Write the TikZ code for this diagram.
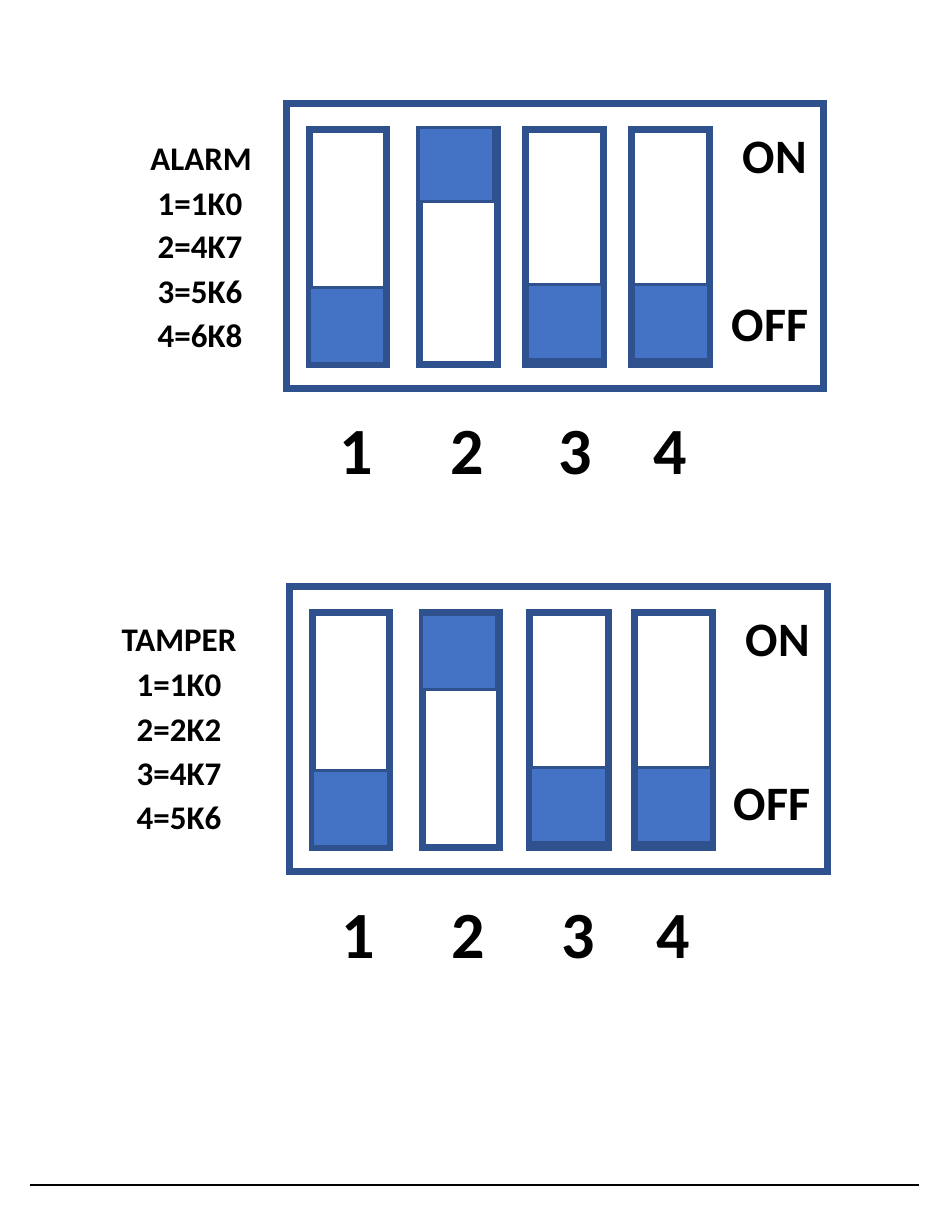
\documentclass[tikz,border=0pt]{standalone}
\usepackage{fontspec}
\setmainfont{Carlito}
\definecolor{dkblue}{HTML}{2F528F}
\definecolor{ltblue}{HTML}{4472C4}
\tikzset{
  panelbox/.style={draw=dkblue, line width=7pt, fill=white},
  switchbox/.style={draw=dkblue, line width=7pt, fill=white},
  knob/.style={draw=dkblue, line width=3pt, fill=ltblue},
  lbl/.style={anchor=base, inner sep=0pt, font=\bfseries\fontsize{33}{35}\selectfont},
  onoff/.style={anchor=base, inner sep=0pt, font=\bfseries\fontsize{48}{50}\selectfont},
  num/.style={anchor=base, inner sep=0pt, font=\bfseries\fontsize{66}{68}\selectfont},
}
\begin{document}
\begin{tikzpicture}[x=1pt, y=-1pt]
\useasboundingbox (0,0) rectangle (950,1205);
% ---------- top panel (ALARM) ----------
\draw[panelbox] (286.5,103.5) rectangle (823.5,388.5);
\draw[switchbox] (309.5,129.5) rectangle (386.5,364.5);
\draw[switchbox] (419.5,129.5) rectangle (497.5,364.5);
\draw[switchbox] (525.5,129.5) rectangle (603.5,364.5);
\draw[switchbox] (631.5,129.5) rectangle (709.5,364.5);
\draw[knob] (309.5,287.5) rectangle (384.5,363.5);
\draw[knob] (418.5,127.5) rectangle (493.5,201.5);
\draw[knob] (527.5,284.5) rectangle (602.5,359.5);
\draw[knob] (633.5,284.5) rectangle (708.5,359.5);
\node[onoff] (on1) at (775,173) {ON};
\node[onoff] (off1) at (770,341) {OFF};
\node[lbl] (a0) at (201,170.5) {ALARM};
\node[lbl] (a1) at (200,215.5) {1=1K0};
\node[lbl] (a2) at (200,258.5) {2=4K7};
\node[lbl] (a3) at (200,303.5) {3=5K6};
\node[lbl] (a4) at (200,347.5) {4=6K8};
\node[num] (n11) at (356,474) {1};
\node[num] (n12) at (467,474) {2};
\node[num] (n13) at (575,474) {3};
\node[num] (n14) at (670,474) {4};
% ---------- bottom panel (TAMPER) ----------
\draw[panelbox] (289.5,586.5) rectangle (827.5,871.5);
\draw[switchbox] (312.5,612.5) rectangle (389.5,847.5);
\draw[switchbox] (422.5,612.5) rectangle (499.5,847.5);
\draw[switchbox] (529.5,612.5) rectangle (608.5,847.5);
\draw[switchbox] (634.5,612.5) rectangle (712.5,847.5);
\draw[knob] (312.5,770.5) rectangle (388.5,846.5);
\draw[knob] (421.5,614.5) rectangle (496.5,689.5);
\draw[knob] (530.5,767.5) rectangle (606.5,842.5);
\draw[knob] (636.5,767.5) rectangle (711.5,842.5);
\node[onoff] (on2) at (778,656) {ON};
\node[onoff] (off2) at (772,820) {OFF};
\node[lbl] (t0) at (179,651.5) {TAMPER};
\node[lbl] (t1) at (179,696.5) {1=1K0};
\node[lbl] (t2) at (179,741.5) {2=2K2};
\node[lbl] (t3) at (179,785.5) {3=4K7};
\node[lbl] (t4) at (179,829.5) {4=5K6};
\node[num] (n21) at (358,958) {1};
\node[num] (n22) at (468,958) {2};
\node[num] (n23) at (578,958) {3};
\node[num] (n24) at (673,958) {4};
% ---------- footer rule ----------
\coordinate (fl) at (30,1185);
\coordinate (fr) at (919,1185);
\draw[line width=1.2pt] (fl) -- (fr);
\end{tikzpicture}
\end{document}
